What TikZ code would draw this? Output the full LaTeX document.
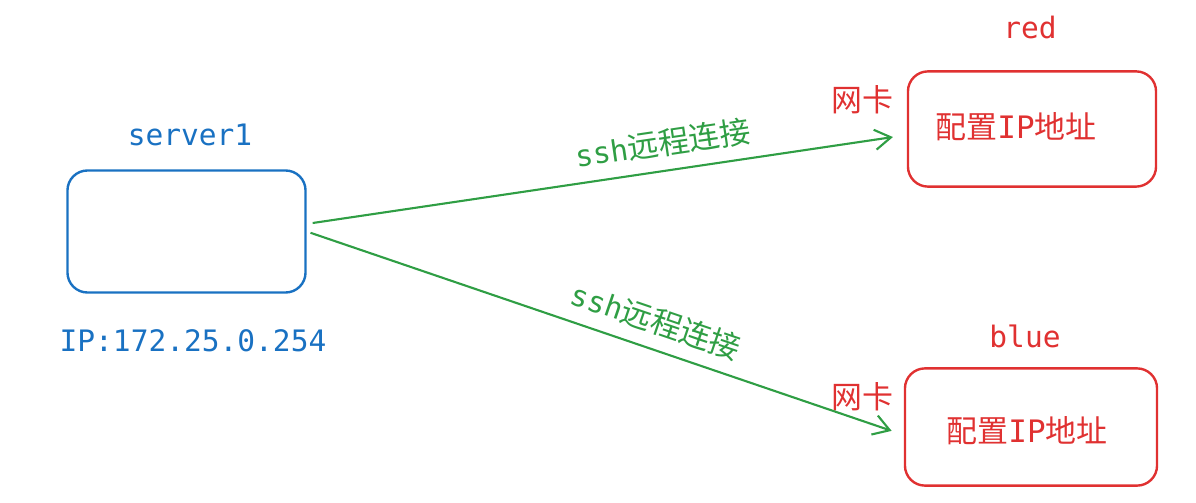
\documentclass[tikz,border=0pt]{standalone}
\usepackage{fontspec}
\setmonofont{DejaVu Sans Mono}
\newfontfamily\cjk{Noto Sans CJK SC}
\usetikzlibrary{arrows.meta}
\definecolor{exblue}{HTML}{1971C2}
\definecolor{exred}{HTML}{E03131}
\definecolor{exgreen}{HTML}{2F9E44}

\begin{document}
\begin{tikzpicture}[x=0.025cm, y=-0.025cm, font=\ttfamily\fontsize{21}{25}\selectfont]

% Styles
\tikzstyle{host} = [draw, rectangle, rounded corners=0.5cm, line width=1.7pt]
\tikzstyle{link} = [draw=exgreen, line width=1.5pt, -{Straight Barb[length=4mm, width=5mm, line width=1.5pt]}]
\tikzstyle{linklabel} = [sloped, above=0.2cm, text=exgreen]

\useasboundingbox (0,0) rectangle (1196,503);

% Nodes - server
\node[host, draw=exblue, minimum width=5.95cm, minimum height=3.05cm] (srv) at (186.5,231.5) {};
\node[text=exblue] (srvname) at (190,135) {server1};
\node[text=exblue] (srvip) at (193,341) {IP:172.25.0.254};

% Nodes - red
\node[host, draw=exred, minimum width=6.2cm, minimum height=2.88cm] (red) at (1032,129) {};
\node[text=exred] (redname) at (1030,27) {red};
\node[text=exred, font=\cjk\fontsize{22}{26}\selectfont] (redtext) at (1016,127) {配置{\ttfamily IP}地址};
\node[text=exred, font=\cjk\fontsize{22}{26}\selectfont] (rednic) at (862,100) {网卡};

% Nodes - blue
\node[host, draw=exred, minimum width=6.3cm, minimum height=2.93cm] (blue) at (1031,427) {};
\node[text=exred] (bluename) at (1025,336) {blue};
\node[text=exred, font=\cjk\fontsize{22}{26}\selectfont] (bluetext) at (1027,431) {配置{\ttfamily IP}地址};
\node[text=exred, font=\cjk\fontsize{22}{26}\selectfont] (bluenic) at (862,397) {网卡};

% Connections
\draw[link, shorten <=0.15cm, shorten >=0.35cm] ([yshift=0.19cm]srv.east) -- node[linklabel, pos=0.6] {ssh{\cjk\fontsize{22}{26}\selectfont 远程连接}} ([yshift=-0.15cm]red.west);
\draw[link, shorten <=0.1cm, shorten >=0.32cm] (srv.east) -- node[linklabel, pos=0.57] {ssh{\cjk\fontsize{22}{26}\selectfont 远程连接}} ([yshift=-0.2cm]blue.west);

\end{tikzpicture}
\end{document}
